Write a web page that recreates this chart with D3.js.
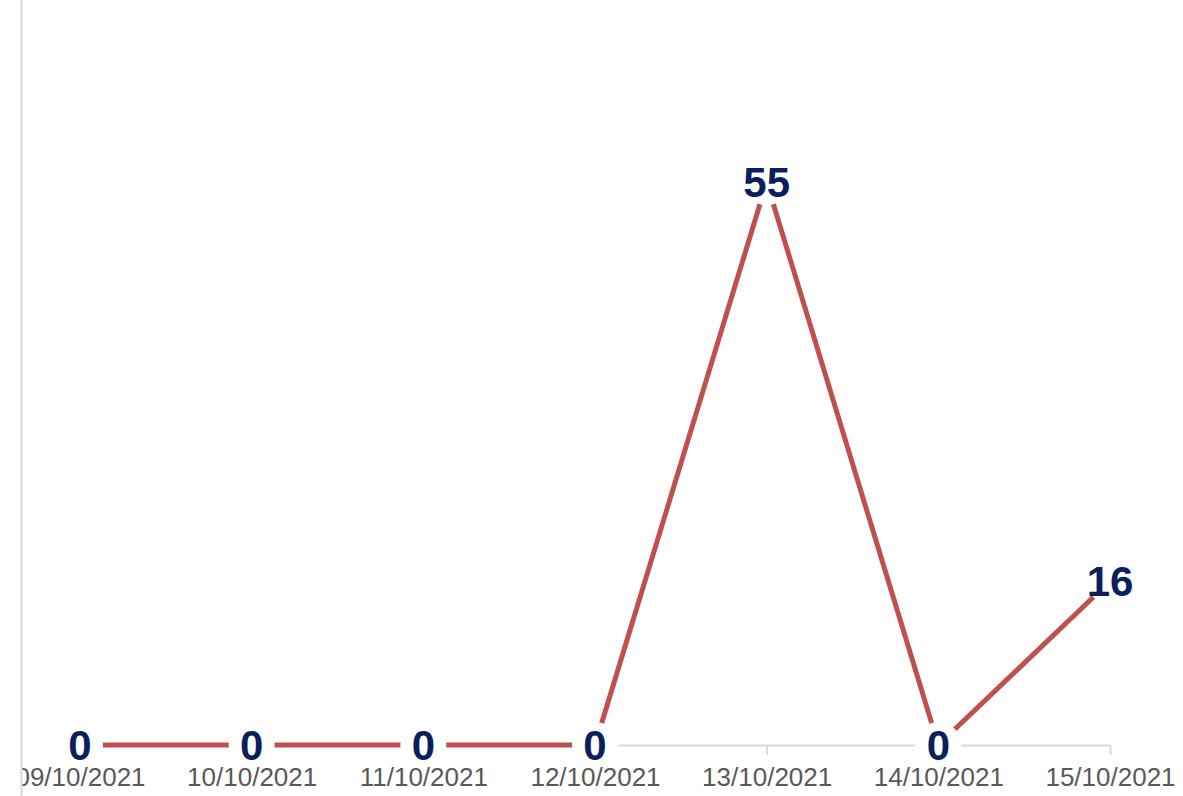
<!DOCTYPE html>
<html lang="en">
  <head>
    <meta charset="utf-8">
    <title>Daily values</title>
    <script type="text/javascript" src="https://cdn.jsdelivr.net/npm/d3@7/dist/d3.min.js"></script>
    <style type="text/css">
      body { margin: 0; background: #fff; }
      svg { display: block; }
      .axis text { font-family: "Liberation Sans", Arial, sans-serif; font-size: 26px; fill: #595959; }
      .axis path, .axis line { stroke: #d9d9d9; stroke-width: 2; }
      .label { font-family: "Liberation Sans", Arial, sans-serif; font-size: 42px; font-weight: bold; fill: #0b1f5c; }
    </style>
  </head>
  <body>
  <script type="text/javascript">

    const dates = ["09/10/2021", "10/10/2021", "11/10/2021", "12/10/2021", "13/10/2021", "14/10/2021", "15/10/2021"];
    const values = [0, 0, 0, 0, 55, 0, 16];

    const w = 1183;
    const h = 796;
    const margin = {top: 131, right: 73, bottom: 51, left: 80};
    const yMax = 60;

    const data = dates.map((d, i) => ({date: d, value: values[i]}));

    const svg = d3.select("body")
                  .append("svg")
                  .attr("width", w)
                  .attr("height", h);

    svg.append("clipPath")
       .attr("id", "plot-clip")
       .append("rect")
       .attr("x", 22)
       .attr("y", 0)
       .attr("width", w - 22)
       .attr("height", h);

    const xScale = d3.scalePoint()
                     .domain(dates)
                     .range([margin.left, w - margin.right]);

    const yScale = d3.scaleLinear()
                     .domain([0, yMax])
                     .range([h - margin.bottom, margin.top]);

    const g = svg.append("g").attr("clip-path", "url(#plot-clip)");

    // left border line
    svg.append("line")
       .attr("x1", 21.5).attr("x2", 21.5)
       .attr("y1", 0).attr("y2", h)
       .attr("stroke", "#d9d9d9")
       .attr("stroke-width", 2);

    // axis line and ticks, under the series
    const axisLine = g.append("g")
                      .attr("class", "axis")
                      .attr("transform", "translate(0," + yScale(0) + ")")
                      .call(d3.axisBottom(xScale).tickSize(10).tickSizeOuter(0).tickFormat(""));

    const line = d3.line()
                   .x(d => xScale(d.date))
                   .y(d => yScale(d.value));

    g.append("path")
     .datum(data)
     .attr("d", line)
     .attr("fill", "none")
     .attr("stroke", "#c0504d")
     .attr("stroke-width", 5);

    // white gap around each point, under the labels
    g.selectAll("circle.gap")
     .data(data)
     .enter()
     .append("circle")
     .attr("class", "gap")
     .attr("cx", d => xScale(d.date))
     .attr("cy", d => yScale(d.value))
     .attr("r", 23)
     .attr("fill", "#fff");

    // tick labels on top
    const axisText = g.append("g")
                      .attr("class", "axis")
                      .attr("transform", "translate(0," + yScale(0) + ")")
                      .call(d3.axisBottom(xScale).tickSize(10).tickSizeOuter(0).tickPadding(13));
    axisText.select(".domain").remove();
    axisText.selectAll(".tick line").remove();

    g.selectAll("text.label")
     .data(data)
     .enter()
     .append("text")
     .attr("class", "label")
     .attr("x", d => xScale(d.date))
     .attr("y", d => yScale(d.value))
     .attr("dy", "0.36em")
     .attr("text-anchor", "middle")
     .text(d => d.value);

  </script>
  </body>
</html>
